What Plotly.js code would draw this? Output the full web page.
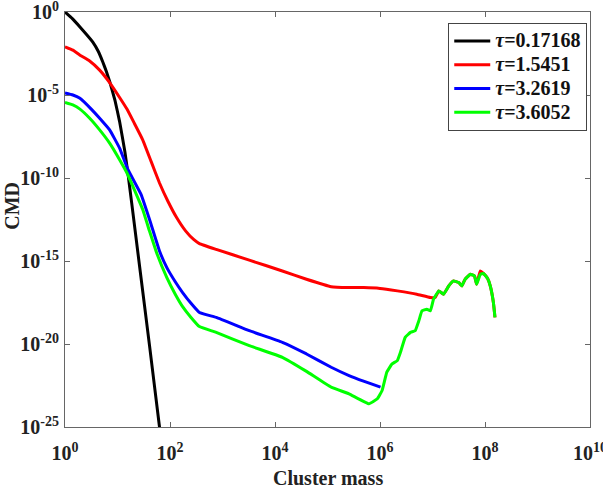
<!DOCTYPE html>
<html>
<head>
<meta charset="utf-8">
<script src="https://cdn.plot.ly/plotly-3.0.1.min.js"></script>
<style>
  html, body { margin: 0; padding: 0; background: #fff; }
  #chart { width: 603px; height: 489px; }
</style>
</head>
<body>
<div id="chart"></div>
<script>
// Cluster mass distributions at four times. Masses and CMD values are
// kept as base-10 exponents (log10 of the value).
const tauLabels = ['0.17168', '1.5451', '3.2619', '3.6052'];
const colors = ['#000000', '#ff0000', '#0000ff', '#00ff00'];

const massExp1 = [0, 0.14, 0.285, 0.41, 0.53, 0.63, 0.72, 0.79, 0.854, 0.95, 1.04, 1.14, 1.20, 1.27, 1.42, 1.61, 1.80, 1.84];
const cmdExp1  = [0, -0.4, -0.9, -1.35, -1.81, -2.35, -3.01, -3.6, -4.22, -5.3, -6.6, -8.4, -9.75, -11.5, -15.3, -20.1, -25.0, -26.0];

const massExp2 = [0, 0.15, 0.285, 0.47, 0.66, 0.85, 1.04, 1.18, 1.32, 1.48, 1.64, 1.80, 1.96, 2.12, 2.30, 2.45, 2.56, 2.88, 3.51, 4.14, 4.60, 5.07, 5.40, 5.69, 6.00, 6.33, 6.70, 6.96, 7.05,
                  7.12, 7.21, 7.31, 7.40, 7.50, 7.56, 7.62, 7.72, 7.80, 7.84, 7.91, 7.97, 8.05, 8.10, 8.16, 8.19];
const cmdExp2  = [-2.1, -2.3, -2.6, -2.95, -3.5, -4.25, -5.15, -5.85, -6.7, -7.7, -9.0, -10.3, -11.4, -12.35, -13.2, -13.7, -13.95, -14.3, -14.95, -15.6, -16.1, -16.55, -16.6, -16.6, -16.65, -16.8, -17.0, -17.2, -17.2,
                  -16.8, -17.0, -16.5, -16.2, -16.3, -16.5, -16.1, -15.8, -15.9, -16.4, -15.6, -15.75, -16.05, -16.5, -17.5, -18.4];

const massExp3 = [0, 0.15, 0.285, 0.5, 0.66, 0.85, 1.04, 1.20, 1.45, 1.61, 1.80, 1.94, 2.10, 2.24, 2.40, 2.56, 2.88, 3.51, 4.14, 4.60, 5.07, 5.41, 5.70, 6.01];
const cmdExp3  = [-4.88, -5.0, -5.2, -5.85, -6.4, -7.1, -8.2, -9.5, -11.0, -12.5, -14.4, -15.4, -16.25, -16.9, -17.55, -18.1, -18.4, -19.2, -19.9, -20.6, -21.4, -21.9, -22.25, -22.6];

const massExp4 = [0, 0.15, 0.285, 0.47, 0.66, 0.85, 1.04, 1.18, 1.32, 1.48, 1.61, 1.75, 1.94, 2.10, 2.24, 2.40, 2.56, 2.88, 3.51, 4.14, 4.60, 5.07, 5.41, 5.79,
                  5.95, 6.04, 6.13, 6.23, 6.33, 6.39, 6.48, 6.58, 6.67, 6.74, 6.80, 6.89, 6.96, 7.02, 7.12, 7.21, 7.31, 7.40, 7.50, 7.56, 7.62, 7.72, 7.80, 7.84, 7.91, 7.97, 8.05, 8.10, 8.16, 8.19];
const cmdExp4  = [-5.45, -5.6, -5.85, -6.4, -7.1, -7.9, -8.9, -9.7, -10.7, -11.9, -13.2, -14.55, -16.0, -17.0, -17.75, -18.4, -18.95, -19.3, -20.1, -20.8, -21.65, -22.6, -23.0, -23.6,
                  -23.3, -22.8, -21.7, -21.2, -21.0, -20.5, -19.6, -19.3, -19.2, -18.6, -18.0, -17.9, -18.0, -17.3, -16.8, -17.0, -16.5, -16.2, -16.3, -16.5, -16.1, -15.8, -15.9, -16.4, -15.8, -15.75, -16.05, -16.5, -17.5, -18.4];

const seriesExp = [[massExp1, cmdExp1], [massExp2, cmdExp2], [massExp3, cmdExp3], [massExp4, cmdExp4]];

const xTickExp = [0, 2, 4, 6, 8, 10];
const yTickExp = [0, -5, -10, -15, -20, -25];

const pow10 = v => Math.pow(10, v);
const sup = e => '<b>10<sup>' + e + '</sup></b>';

// Legend rows are spaced by the legend font size; the label itself is drawn larger.
const legendName = t => '<span style="font-size:20px"><b><i>τ</i>=' + t + '</b></span>';

const traces = seriesExp.map(([mx, cy], i) => ({
  x: mx.map(pow10),
  y: cy.map(pow10),
  type: 'scatter',
  mode: 'lines',
  name: legendName(tauLabels[i]),
  line: { color: colors[i], width: 3, shape: 'spline', smoothing: 0.3 }
}));

const serif = 'Liberation Serif, Times New Roman, serif';
const axisCommon = {
  type: 'log',
  showgrid: false,
  zeroline: false,
  showline: true,
  linecolor: '#666',
  linewidth: 1,
  mirror: 'ticks',
  ticks: 'inside',
  ticklen: 5,
  tickcolor: '#666',
  ticklabeloverflow: 'allow',
  tickfont: { family: serif, size: 20, color: '#222' }
};

const layout = {
  width: 603,
  height: 489,
  margin: { l: 65, r: 13, t: 12, b: 62 },
  paper_bgcolor: '#fff',
  plot_bgcolor: '#fff',
  font: { family: serif, color: '#222' },
  xaxis: Object.assign({}, axisCommon, {
    range: [0, 10],
    tickvals: xTickExp.map(pow10),
    ticktext: xTickExp.map(sup),
    ticklabelstandoff: 8
  }),
  yaxis: Object.assign({}, axisCommon, {
    range: [-25, 0],
    tickvals: yTickExp.map(pow10),
    ticktext: yTickExp.map(sup),
    ticklabelstandoff: 1
  }),
  annotations: [
    { text: '<b>Cluster mass</b>', xref: 'paper', yref: 'paper', x: 0.5, y: -0.123,
      xanchor: 'center', yanchor: 'middle', showarrow: false,
      font: { family: serif, size: 20, color: '#222' } },
    { text: '<b>CMD</b>', xref: 'paper', yref: 'paper', x: -0.101, y: 0.533,
      xanchor: 'center', yanchor: 'middle', textangle: -90, showarrow: false,
      font: { family: serif, size: 20, color: '#222' } }
  ],
  legend: {
    x: 0.73, y: 0.9735, xanchor: 'left', yanchor: 'top',
    bgcolor: '#fff',
    bordercolor: '#444',
    borderwidth: 1,
    font: { family: serif, size: 16, color: '#111' },
    tracegroupgap: 0,
    itemwidth: 36
  },
  showlegend: true
};

Plotly.newPlot('chart', traces, layout, { displayModeBar: false, staticPlot: true });
</script>
</body>
</html>
